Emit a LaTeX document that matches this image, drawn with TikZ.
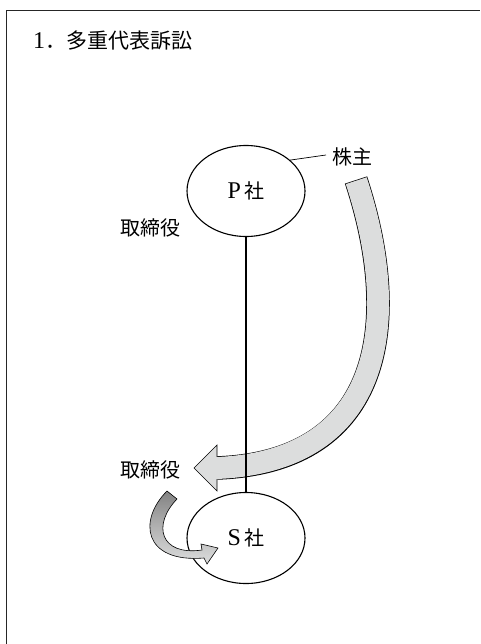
\documentclass[tikz,border=0pt]{standalone}
\usepackage{fontspec}
\setmainfont{Liberation Serif}
\newfontfamily\cjk{Noto Sans CJK JP}
\usetikzlibrary{shapes.geometric}
\definecolor{arrowgray}{RGB}{220,221,221}
\definecolor{darkarrow}{RGB}{130,130,130}
\tikzset{
  lbl/.style={font=\fontsize{20}{20}\selectfont\cjk, inner sep=0pt},
  company/.style={draw, ellipse, line width=1.1pt, fill=white, minimum width=118pt, minimum height=91pt, inner sep=0pt, font=\fontsize{20}{20}\selectfont},
  frameline/.style={line width=0.9pt, black!85},
}
\newcommand{\bigL}[1]{{\rmfamily\fontsize{24}{24}\selectfont #1}}
\begin{document}
\begin{tikzpicture}[x=1pt,y=-1pt]
\useasboundingbox (0,0) rectangle (480,644);
% frame
\coordinate (fa) at (6,644);
\coordinate (fb) at (6,10);
\coordinate (fc) at (480,10);
\draw[frameline] (fa) -- (fb) -- (fc);
% title
\node[lbl, anchor=west, font=\fontsize{21}{21}\selectfont\cjk] (title) at (33,41) {\bigL{1}．多重代表訴訟};
% big arrow
\coordinate (bs) at (356,180);
\coordinate (be) at (217,468);
\coordinate (tip) at (194,468);
\coordinate (b1) at (217,445);
\coordinate (b2) at (217,491);
\draw[line width=23.5pt, black] (bs) .. controls (402,320) and (385,462) .. (be);
\filldraw[fill=arrowgray, draw=black, line width=0.6pt, line join=miter] (b1) -- (tip) -- (b2) -- cycle;
\draw[line width=22pt, arrowgray, shorten <=0.7pt, shorten >=-2pt] (bs) .. controls (402,320) and (385,462) .. (be);
% companies
\node[company] (P) at (246,191) {\bigL{P}\,{\cjk 社}};
\node[company] (S) at (246,538) {\bigL{S}\,{\cjk 社}};
\draw[line width=1.1pt] (P.south) -- (S.north);
% labels
\node[lbl] (kabu) at (352,157) {株主};
\coordinate (kl) at (326,155);
\draw[line width=0.7pt] (P.35) -- (kl);
\node[lbl] (tp) at (150,228) {取締役};
\node[lbl] (ts) at (150,470) {取締役};
% small arrow
\coordinate (s1) at (167,491);
\coordinate (s2) at (204,558);
\coordinate (s3) at (207,564);
\coordinate (s4) at (218,548);
\coordinate (s5) at (201,544);
\coordinate (s6) at (202,550);
\coordinate (s7) at (177,499);
\shadedraw[top color=darkarrow, bottom color=arrowgray, middle color=gray!60, draw=black, line width=0.6pt, line join=miter]
  (s1) .. controls (138,520) and (143,563) .. (s2) -- (s3) -- (s4) -- (s5) -- (s6) .. controls (160,556) and (152,525) .. (s7) -- cycle;
\end{tikzpicture}
\end{document}
